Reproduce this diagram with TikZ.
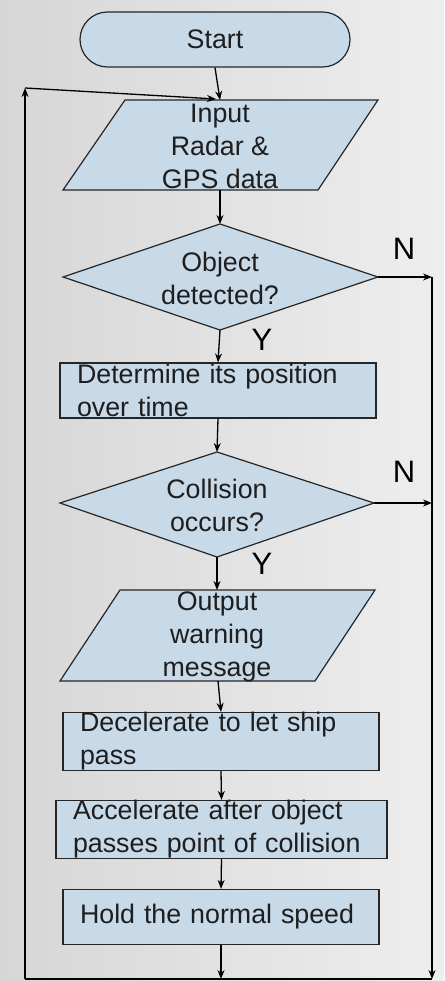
\documentclass[tikz,border=0pt]{standalone}
\usepackage{fontspec}
\setmainfont{Liberation Sans}
\usetikzlibrary{arrows.meta}
\definecolor{boxfill}{RGB}{200,217,232}
\definecolor{txtcol}{RGB}{30,30,30}
\definecolor{bgleft}{RGB}{214,214,214}
\definecolor{bgright}{RGB}{238,238,238}
\begin{document}
\begin{tikzpicture}[x=1pt,y=-1pt,
  shapeline/.style={draw=black!85, line width=1.2pt, fill=boxfill},
  flow/.style={draw=black, line width=1.3pt, -{Stealth[length=9pt,width=7pt]}},
  plain/.style={draw=black, line width=1.3pt},
  txt/.style={font=\fontsize{26.8}{33}\selectfont, text=txtcol, align=center, inner sep=0pt},
  boxnode/.style={shapeline, minimum height=55pt, inner xsep=17pt, inner ysep=0pt,
    align=left, font=\fontsize{26.8}{33}\selectfont, text=txtcol},
  yn/.style={font=\fontsize{31}{31}\selectfont, text=black, inner sep=0pt}]

\useasboundingbox (0,0) rectangle (444,981);
\shade[left color=bgleft, right color=bgright] (0,0) rectangle (444,981);

% Start
\node[shapeline, rounded corners=27.5pt, minimum width=270pt, minimum height=55pt,
  txt] (start) at (215,39.5) {Start};

% Input parallelogram
\draw[shapeline] (125,100) -- (378,100) -- (318,190) -- (63,190) -- cycle;
\node[txt] (input) at (220,146) {Input\\Radar \&\\GPS data};
\coordinate (inputN) at (220,100);
\coordinate (inputS) at (220,190);
\coordinate (loopIn) at (216,99);

% Decision 1
\draw[shapeline] (220,224) -- (378,277) -- (220,330) -- (63,277) -- cycle;
\node[txt] (d1) at (220,278) {Object\\detected?};
\coordinate (d1N) at (220,224);
\coordinate (d1S) at (220,330);
\coordinate (d1E) at (378,277);

% Determine
\node[boxnode, text width=282pt] (det) at (218,390.5) {Determine its position\\over time};

% Decision 2
\draw[shapeline] (217,452) -- (374,503) -- (217,557) -- (60,503) -- cycle;
\node[txt] (d2) at (217,505) {Collision\\occurs?};
\coordinate (d2N) at (217,452);
\coordinate (d2S) at (217,557);
\coordinate (d2E) at (374,503);

% Output parallelogram
\draw[shapeline] (120,590) -- (375,590) -- (315,681) -- (60,681) -- cycle;
\node[txt] (out) at (217,637) {Output\\warning\\message};
\coordinate (outN) at (217,590);
\coordinate (outS) at (218,681);

% Process boxes
\node[boxnode, text width=282pt] (dec) at (221,741.5) {Decelerate to let ship\\pass};
\node[boxnode, text width=297pt] (acc) at (221.5,829.5) {Accelerate after object\\passes point of collision};
\node[boxnode, text width=282pt] (hold) at (221,917) {Hold the normal speed};

% frame coordinates
\coordinate (botL) at (25,979);
\coordinate (botR) at (432,979);
\coordinate (botC) at (221,979);
\coordinate (topL) at (25,88);
\coordinate (rN1) at (432,277);

% connectors
\draw[flow] (start.south) -- (inputN);
\draw[flow] (inputS) -- (d1N);
\draw[flow] (d1S) -- (det.north);
\draw[flow] (det.south) -- (d2N);
\draw[flow] (d2S) -- (outN);
\draw[flow] (outS) -- (dec.north);
\draw[flow] (dec.south) -- (acc.north);
\draw[flow] (acc.south) -- (hold.north);
\draw[flow] (hold.south) -- (botC);
\draw[plain] (botL) -- (botR);
\draw[flow] (d1E) -- (rN1);
\draw[flow] (rN1) -- (botR);
\draw[flow] (d2E) -- (d2E -| rN1);
\draw[flow] (botL) -- (topL);
\draw[flow] (topL) -- (loopIn);

% labels
\node[yn] (n1) at (404,249) {N};
\node[yn] (y1) at (262,340) {Y};
\node[yn] (n2) at (404,472) {N};
\node[yn] (y2) at (262,564) {Y};
\end{tikzpicture}
\end{document}
